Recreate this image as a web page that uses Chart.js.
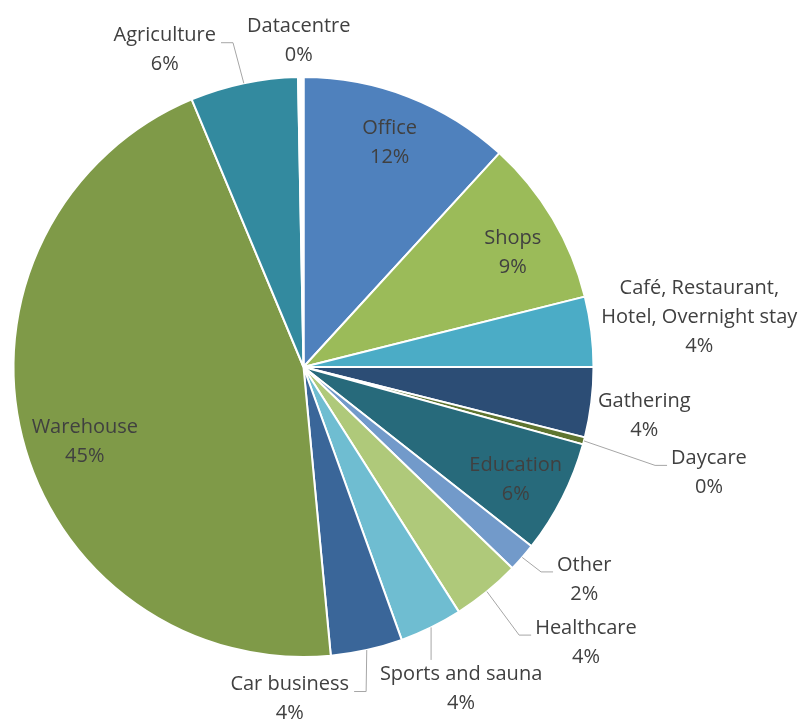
<!DOCTYPE html>
<html>
<head>
<meta charset="utf-8">
<script src="https://cdn.jsdelivr.net/npm/chart.js@4.4.1/dist/chart.umd.min.js"></script>
<style>
 body { margin: 0; background: #fff; }
</style>
</head>
<body>
<canvas id="myChart" width="803" height="720"></canvas>
<script>
var ctx = document.getElementById('myChart');

// clockwise from 12 o'clock
var Sectors = ['Office', 'Shops', ['Café, Restaurant,', 'Hotel, Overnight stay'], 'Gathering', 'Daycare', 'Education', 'Other', 'Healthcare', 'Sports and sauna', 'Car business', 'Warehouse', 'Agriculture', 'Datacentre'];
var Shares = [11.8, 9.3, 3.9, 3.9, 0.4, 6.3, 1.6, 3.8, 3.5, 4.0, 45.2, 6.0, 0.3];
var SliceColors = ['#4f81bd', '#9bbb59', '#4bacc6', '#2c4d75', '#5f7530', '#276a7b', '#729aca', '#afc97a', '#6fbdd1', '#3a6699', '#7f9a48', '#338a9f', '#ffffff'];

// where each data label sits: inside the slice, or pushed out from the rim with a leader line
var LabelLayout = [
  {inside: true, dx: 0, dy: -3},
  {inside: true, dx: 5, dy: 7},
  {dx: 108, dy: -14},
  {dx: 53, dy: 13},
  {dx: 125, dy: 32, leader: 'left'},
  {inside: true, dx: 0, dy: 6},
  {dx: 62, dy: 22, leader: 'left'},
  {dx: 99, dy: 51, leader: 'left'},
  {dx: 30, dy: 61, leader: 'down'},
  {dx: -77, dy: 49, leader: 'right'},
  {inside: true, dx: 12, dy: 17},
  {dx: -79, dy: -33, leader: 'right'},
  {dx: -2, dy: -36}
];

var pieLabels = {
  id: 'pieLabels',
  afterDatasetsDraw: function(chart) {
    var c = chart.ctx;
    var meta = chart.getDatasetMeta(0);
    var total = Shares.reduce(function(a, b) { return a + b; }, 0);
    c.save();
    c.font = '20px "Open Sans"';
    c.textAlign = 'center';
    c.textBaseline = 'middle';
    meta.data.forEach(function(arc, i) {
      var p = arc.getProps(['x', 'y', 'startAngle', 'endAngle', 'outerRadius'], true);
      var mid = (p.startAngle + p.endAngle) / 2;
      var lay = LabelLayout[i];
      var lines = [].concat(Sectors[i]);
      lines.push(Math.round(Shares[i] / total * 100) + '%');
      var r = lay.inside ? p.outerRadius * 0.82 : p.outerRadius;
      var ax = p.x + Math.cos(mid) * r;
      var ay = p.y + Math.sin(mid) * r;
      var cx = ax + lay.dx, cy = ay + lay.dy;
      var lh = 29;
      var top = cy - (lines.length - 1) * lh / 2;

      if (lay.leader) {
        c.strokeStyle = '#a6a6a6';
        c.lineWidth = 1;
        c.beginPath();
        c.moveTo(ax, ay);
        var ly = top + 7;
        if (lay.leader == 'left') {
          var edge = cx - c.measureText(lines[0]).width / 2 - 4;
          c.lineTo(edge - 12, ly);
          c.lineTo(edge, ly);
        } else if (lay.leader == 'right') {
          var edge2 = cx + c.measureText(lines[0]).width / 2 + 5;
          c.lineTo(edge2 + 12, ly);
          c.lineTo(edge2, ly);
        } else {
          c.lineTo(ax, top - 14);
        }
        c.stroke();
      }

      c.fillStyle = '#404040';
      lines.forEach(function(l, k) {
        c.fillText(l, cx, top + k * lh);
      });
    });
    c.restore();
  }
};

var myChart = new Chart(ctx, {
  type: 'pie',
  data: {
    labels: Sectors,
    datasets: [{
      data: Shares,
      backgroundColor: SliceColors,
      borderColor: '#ffffff',
      borderWidth: 2
    }]
  },
  options: {
    responsive: false,
    animation: false,
    layout: { padding: { left: 12, top: 76, right: 208, bottom: 62 } },
    plugins: {
      legend: { display: false },
      tooltip: { enabled: false }
    }
  },
  plugins: [pieLabels]
});
</script>
</body>
</html>
